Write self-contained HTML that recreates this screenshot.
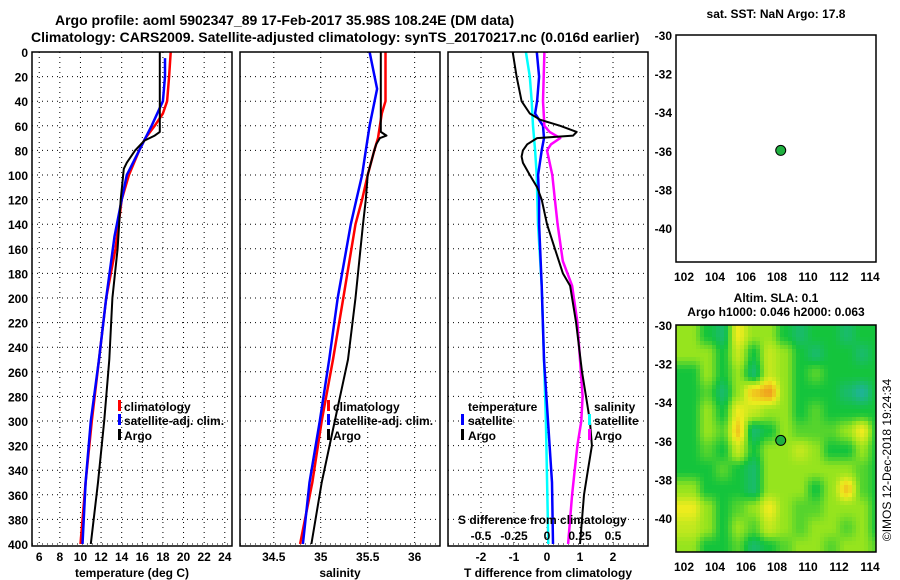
<!DOCTYPE html>
<html><head><meta charset="utf-8"><style>
body{margin:0;background:#fff;}
svg{display:block;font-family:"Liberation Sans",Arial,sans-serif;font-weight:bold;}
</style></head><body>
<svg id="c" width="900" height="580" viewBox="0 0 900 580" xmlns="http://www.w3.org/2000/svg">
<text x="55" y="25" font-size="14">Argo profile: aoml 5902347_89 17-Feb-2017 35.98S 108.24E (DM data)</text>
<text x="31" y="42" font-size="14">Climatology: CARS2009. Satellite-adjusted climatology: synTS_20170217.nc (0.016d earlier)</text>
<g id="g"></g>
</svg>
<script>
// ---- data ----
const tClimDepth=[0,20,40,50,60,70,80,100,120,140,160,200,250,300,350,400];
const tClim=[18.75,18.6,18.4,18.0,17.2,16.3,15.7,14.7,14.0,13.7,13.4,12.5,11.8,11.1,10.5,10.0];
const tSatDepth=[5,20,40,60,80,100,120,150,200,250,300,350,400];
const tSat=[18.2,18.2,18.0,16.9,15.7,14.5,14.0,13.3,12.5,11.8,11.0,10.5,10.2];
const tArgoDepth=[0,65,68,72,80,90,95,120,160,200,250,300,350,400];
const tArgo=[17.7,17.7,17.2,16.2,15.3,14.5,14.2,13.9,13.6,13.1,12.8,12.3,11.7,11.0];
const sClimDepth=[0,40,50,60,70,80,100,120,140,200,250,300,350,400];
const sClim=[35.69,35.69,35.65,35.63,35.61,35.57,35.5,35.44,35.37,35.24,35.13,35.01,34.91,34.78];
const sSatDepth=[0,30,60,80,100,120,140,200,250,300,350,400];
const sSat=[35.52,35.6,35.52,35.48,35.44,35.38,35.32,35.18,35.09,34.99,34.88,34.81];
const sArgoDepth=[0,65,68,70,75,80,100,120,140,200,250,300,350,400];
const sArgo=[35.64,35.64,35.7,35.63,35.59,35.57,35.5,35.48,35.45,35.37,35.29,35.15,35.01,34.9];
const dTArgoDepth=[0,20,40,50,55,60,65,68,70,75,80,85,90,100,110,120,140,160,180,190,220,260,280,300,320,340,360,380,400];
const dTArgo=[-1.04,-0.92,-0.77,-0.52,-0.21,0.4,0.9,0.79,-0.3,-0.6,-0.73,-0.77,-0.73,-0.52,-0.3,-0.16,0,0.24,0.48,0.7,0.88,1.06,1.18,1.3,1.36,1.24,1.12,1.06,1.0];
const dSArgoDepth=[0,40,60,65,70,75,80,100,120,140,170,190,220,250,280,300,320,340,360,380,400];
const dSArgo=[-0.02,-0.03,-0.02,0.02,0.1,0.03,0.0,0.04,0.06,0.08,0.12,0.19,0.23,0.25,0.27,0.26,0.23,0.21,0.19,0.175,0.16];
const dTSatDepth=[0,20,40,50,60,70,80,100,120,140,190,250,300,350,400];
const dTSat=[-0.31,-0.24,-0.3,-0.36,-0.12,-0.09,-0.16,-0.27,-0.24,-0.24,-0.16,-0.09,0.03,0.15,0.18];
const dSSatDepth=[0,20,40,60,80,100,140,190,300,400];
const dSSat=[-0.16,-0.13,-0.116,-0.106,-0.09,-0.078,-0.068,-0.04,-0.008,0.01];
const tTicks=[6,8,10,12,14,16,18,20,22,24];
const sTicks=[34.5,35,35.5,36];
const sTickLabels=["34.5","35","35.5","36"];
const dTTicks=[-2,-1,0,1,2];
const dSTicks=[-0.5,-0.25,0,0.25,0.5];
const dSTickLabels=["-0.5","-0.25","0","0.25","0.5"];
const depthTicks=[0,20,40,60,80,100,120,140,160,180,200,220,240,260,280,300,320,340,360,380,400];
const lonTicks=[102,104,106,108,110,112,114];
const latTicks=[-30,-32,-34,-36,-38,-40];
const argoLon=108.24, argoLat=-35.98;
const slaLon0=102.5, slaLat0=-30.5;
const slaGrid=[
[2,1,0.5,3,2,2,1,0.5,1,1,0.5,1,1],
[2,2,1,2.5,1,2.5,2,1,0.5,1,1,0.5,1],
[1,2,1,2,0.5,2.5,2,1,1.5,1,1,1,1],
[1,1.5,0.5,2,3.5,4,2,1,1,1,0.5,0,1],
[1,2,1,3,2.5,2,2,1,1.5,1,1,1,1],
[1,2,1.5,3.5,0.5,1,2,1.5,1.5,1.5,2,3,1],
[1,1.5,1,2.5,1,2,2,2.5,2,1,1,2,1],
[1,1,1.5,1,0.5,2,2,2,2,2,2,1.5,1],
[2,1,1,1,0.5,2,2,2,1,2,3.5,1.5,1],
[3,2,1,1.5,2,3,2,1.5,1.5,2,2,2,1],
[2.5,2,1,2,1.5,2.5,2,1.5,2,2,1.5,2,1],
[2,1,1,1.5,0.5,1,1.5,2,2,1.5,2,2,1.5]];

// ---- helpers ----
const NS="http://www.w3.org/2000/svg";
const G=document.getElementById('g');
function mk(tag,attrs,parent,txt){const e=document.createElementNS(NS,tag);for(const k in attrs)e.setAttribute(k,attrs[k]);if(txt!==undefined)e.textContent=txt;(parent||G).appendChild(e);return e;}
const Y=d=>52+d*1.23;
function lin(d0,d1,r0,r1){return v=>r0+(v-d0)*(r1-r0)/(d1-d0);}
const xT=lin(5.3,24.7,32,232);
const xS=lin(34.14,36.27,240,440);
const xdT=lin(-3,3.06,448,648);
const xdS=v=>547+v*132;

function panel(x0,name){
  const g=mk('g',{});
  
  
  return g;
}
function grid(g,x0,vx){
  vx.forEach(x=>{const l=mk('line',{x1:x,x2:x,y1:52,y2:546,stroke:'#000','stroke-width':1,'stroke-dasharray':'1,4'},g);
    });
  depthTicks.forEach(d=>{const l=mk('line',{x1:x0,x2:x0+200,y1:Y(d),y2:Y(d),stroke:'#000','stroke-width':1,'stroke-dasharray':'1,4'},g);
    });
}
function frame(g,x0){const r=mk('rect',{x:x0,y:52,width:200,height:494,fill:'none',stroke:'#000','stroke-width':1.5},g);
  }
function line(g,depths,vals,xf,color,w,name){
  const pts=depths.map((d,i)=>xf(vals[i]).toFixed(1)+','+Y(d).toFixed(1)).join(' ');
  const p=mk('polyline',{points:pts,fill:'none',stroke:color,'stroke-width':w,'stroke-linejoin':'round'},g);
  
}
function txt(g,x,y,s,size,anchor,name){const t=mk('text',{x:x,y:y,'font-size':size||12,'text-anchor':anchor||'start'},g,s);
  return t;}
function bar(g,x,y,color,name){const r=mk('rect',{x:x,y:y-9,width:3,height:11,fill:color},g);
  }

const dl=panel(0,'depth-axis');
depthTicks.forEach(d=>txt(dl,28,Y(d)+5,String(d),12,'end','depth-tick-label'));

const p1=panel(32,'temperature-panel');
grid(p1,32,tTicks.map(xT));
line(p1,tClimDepth,tClim,xT,'#ff0000',2.5,'temperature-climatology-line');
line(p1,tSatDepth,tSat,xT,'#0000ff',2.5,'temperature-satellite-line');
line(p1,tArgoDepth,tArgo,xT,'#000',2,'temperature-argo-line');
frame(p1,32);
tTicks.forEach(t=>txt(p1,xT(t),561,String(t),12,'middle','temperature-tick-label'));
txt(p1,132,577,'temperature (deg C)',12,'middle','x-axis-title-temperature');
bar(p1,118,409,'#ff0000','legend-swatch-climatology');txt(p1,124,411,'climatology',12,'start','legend-entry-climatology');
bar(p1,118,423,'#0000ff','legend-swatch-satellite');txt(p1,124,425,'satellite-adj. clim.',12,'start','legend-entry-satellite');
bar(p1,118,438,'#000','legend-swatch-argo');txt(p1,124,440,'Argo',12,'start','legend-entry-argo');

const p2=panel(240,'salinity-panel');
grid(p2,240,sTicks.map(xS));
line(p2,sClimDepth,sClim,xS,'#ff0000',2.5,'salinity-climatology-line');
line(p2,sSatDepth,sSat,xS,'#0000ff',2.5,'salinity-satellite-line');
line(p2,sArgoDepth,sArgo,xS,'#000',2,'salinity-argo-line');
frame(p2,240);
sTicks.forEach((t,i)=>txt(p2,xS(t),561,sTickLabels[i],12,'middle','salinity-tick-label'));
txt(p2,340,577,'salinity',12,'middle','x-axis-title-salinity');
bar(p2,327,409,'#ff0000','legend-swatch-climatology');txt(p2,333,411,'climatology',12,'start','legend-entry-climatology');
bar(p2,327,423,'#0000ff','legend-swatch-satellite');txt(p2,333,425,'satellite-adj. clim.',12,'start','legend-entry-satellite');
bar(p2,327,438,'#000','legend-swatch-argo');txt(p2,333,440,'Argo',12,'start','legend-entry-argo');

const p3=panel(448,'difference-panel');
grid(p3,448,dTTicks.map(xdT));
line(p3,dSSatDepth,dSSat,xdS,'#00ffff',2.5,'salinity-diff-satellite-line');
line(p3,dTSatDepth,dTSat,xdT,'#0000ff',2.5,'temperature-diff-satellite-line');
line(p3,dSArgoDepth,dSArgo,xdS,'#ff00ff',2.5,'salinity-diff-argo-line');
line(p3,dTArgoDepth,dTArgo,xdT,'#000',2,'temperature-diff-argo-line');
frame(p3,448);
dTTicks.forEach(t=>txt(p3,xdT(t),561,String(t),12,'middle','t-diff-tick-label'));
txt(p3,548,577,'T difference from climatology',12,'middle','x-axis-title-t-diff');
txt(p3,458,524,'S difference from climatology',12,'start','s-diff-axis-title');
dSTicks.forEach((t,i)=>txt(p3,xdS(t),540,dSTickLabels[i],12,'middle','s-diff-tick-label'));
txt(p3,468,411,'temperature',12,'start','legend-title-temperature');
bar(p3,461,423,'#0000ff','legend-swatch-t-satellite');txt(p3,468,425,'satellite',12,'start','legend-entry-t-satellite');
bar(p3,461,438,'#000','legend-swatch-t-argo');txt(p3,468,440,'Argo',12,'start','legend-entry-t-argo');
txt(p3,594,411,'salinity',12,'start','legend-title-salinity');
bar(p3,588,423,'#00ffff','legend-swatch-s-satellite');txt(p3,594,425,'satellite',12,'start','legend-entry-s-satellite');
bar(p3,588,438,'#ff00ff','legend-swatch-s-argo');txt(p3,594,440,'Argo',12,'start','legend-entry-s-argo');

const mxLon=lin(102,114,684,870);
function mapAxes(g,top){
  const yLat=v=>top+(-30-v)*19.3;
  latTicks.forEach(l=>txt(g,672,yLat(l)+5,String(l),12,'end','map-lat-label'));
  lonTicks.forEach(l=>txt(g,mxLon(l),top+246,String(l),12,'middle','map-lon-label'));
  return yLat;
}
const m1=panel(676,'sst-map');
txt(m1,776,18,'sat. SST: NaN Argo: 17.8',12,'middle','sst-map-title');
const y1=mapAxes(m1,35);
const r1=mk('rect',{x:676,y:35,width:200,height:227,fill:'#fff',stroke:'#000','stroke-width':1.5},m1);

const c1=mk('circle',{cx:mxLon(argoLon),cy:y1(argoLat),r:5,fill:'#20b040',stroke:'#000','stroke-width':1},m1);


const m2=panel(676,'sla-map');
txt(m2,776,302,'Altim. SLA: 0.1',12,'middle','sla-map-title');
txt(m2,776,316,'Argo h1000: 0.046 h2000: 0.063',12,'middle','sla-map-subtitle');
const y2=mapAxes(m2,325);
const cols=[[30,180,150],[20,196,60],[150,228,30],[238,236,30],[240,160,30]];
function cmap(v){v=Math.max(0,Math.min(3.999,v));const i=Math.floor(v),f=v-i;const a=cols[i],b=cols[i+1];
  return 'rgb('+a.map((c,k)=>Math.round(c+(b[k]-c)*f)).join(',')+')';}
function sample(lon,lat){
  const nr=slaGrid.length,nc=slaGrid[0].length;
  let c=Math.max(0,Math.min(nc-1.001,lon-slaLon0)), r=Math.max(0,Math.min(nr-1.001,slaLat0-lat));
  const c0=Math.floor(c),r0=Math.floor(r),fc=c-c0,fr=r-r0;
  const s=t=>t*t*(3-2*t);
  const a=s(fc),b=s(fr);
  const v00=slaGrid[r0][c0],v01=slaGrid[r0][c0+1],v10=slaGrid[r0+1][c0],v11=slaGrid[r0+1][c0+1];
  return (v00*(1-a)+v01*a)*(1-b)+(v10*(1-a)+v11*a)*b;
}
const hg=mk('g',{},m2);

const step=4;
for(let py=325;py<552;py+=step){for(let px=676;px<876;px+=step){
  const lon=102+(px+step/2-684)/15.5, lat=-30-(py+step/2-325)/19.3;
  const cell=mk('rect',{x:px,y:py,width:step,height:Math.min(step,552-py),fill:cmap(sample(lon,lat))},hg);
  
  
}}
const r2=mk('rect',{x:676,y:325,width:200,height:227,fill:'none',stroke:'#000','stroke-width':1.5},m2);

const c2=mk('circle',{cx:mxLon(argoLon),cy:y2(argoLat),r:5,fill:'#20b040',stroke:'#000','stroke-width':1},m2);

const cr=txt(G,0,0,'©IMOS 12-Dec-2018 19:24:34',12,'middle','credit-timestamp');
cr.setAttribute('font-weight','normal');
cr.setAttribute('transform','translate(891,460) rotate(-90)');
</script>
</body></html>
